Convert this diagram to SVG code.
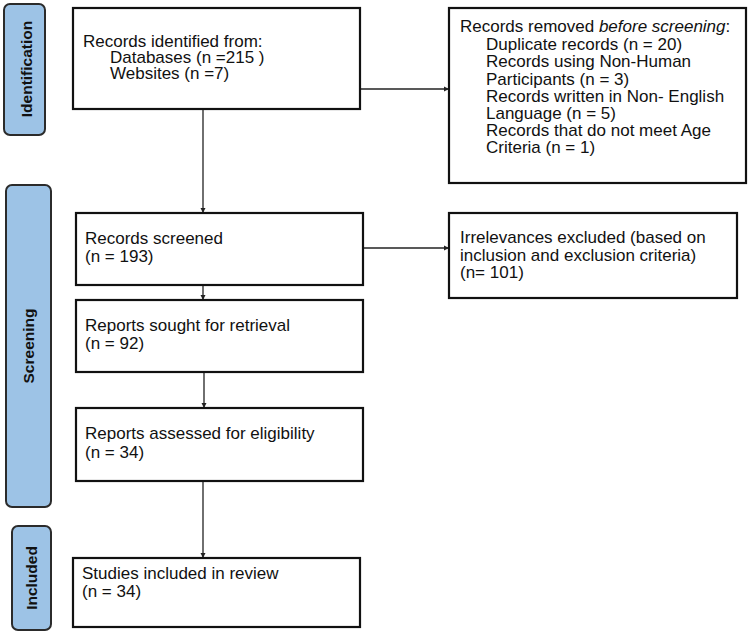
<svg xmlns="http://www.w3.org/2000/svg" width="750" height="635" viewBox="0 0 750 635">
<style>
.lbl{fill:#9DC3E6;stroke:#2b2b2b;stroke-width:2}
.box{fill:#fff;stroke:#111;stroke-width:2.2}
.t{font-family:"Liberation Sans",Arial,sans-serif;font-size:17px;fill:#111}
.lt{font-family:"Liberation Sans",Arial,sans-serif;font-size:15.5px;font-weight:bold;fill:#111;text-anchor:middle}
.c{stroke:#222;stroke-width:1.3;fill:none;marker-end:url(#ah)}
</style>
<defs>
<marker id="ah" viewBox="0 0 6 6" refX="6" refY="3" markerWidth="4" markerHeight="4" markerUnits="strokeWidth" orient="auto">
<path d="M0,0 L6,3 L0,6 z" fill="#222"/>
</marker>
</defs>
<rect width="750" height="635" fill="#fff"/>
<g id="label-identification">
<rect class="lbl" x="4" y="4" width="41" height="131" rx="6"/>
<text class="lt" transform="translate(31.5,69) rotate(-90)">Identification</text>
</g>
<g id="label-screening">
<rect class="lbl" x="6" y="185" width="45" height="322" rx="6"/>
<text class="lt" transform="translate(33.5,346) rotate(-90)">Screening</text>
</g>
<g id="label-included">
<rect class="lbl" x="12" y="526" width="39" height="104" rx="6"/>
<text class="lt" transform="translate(37,578) rotate(-90)">Included</text>
</g>
<g id="connectors">
<path class="c" d="M203,109 V213"/>
<path class="c" d="M360,89 H449"/>
<path class="c" d="M203,285 V300"/>
<path class="c" d="M363,248 H449"/>
<path class="c" d="M204,372 V408"/>
<path class="c" d="M203,455 V558"/>
</g>
<g id="identified">
<rect class="box" x="73" y="8" width="287" height="101"/>
<text class="t" x="83" y="47">Records identified from:</text>
<text class="t" x="110" y="63">Databases (n =215 )</text>
<text class="t" x="110" y="79">Websites (n =7)</text>
</g>
<g id="removed">
<rect class="box" x="449" y="8" width="297" height="175"/>
<text class="t" x="460" y="32">Records removed <tspan font-style="italic">before screening</tspan>:</text>
<text class="t" x="486" y="50">Duplicate records (n = 20)</text>
<text class="t" x="486" y="67">Records using Non-Human</text>
<text class="t" x="486" y="85">Participants (n = 3)</text>
<text class="t" x="486" y="102">Records written in Non- English</text>
<text class="t" x="486" y="119">Language (n = 5)</text>
<text class="t" x="486" y="136">Records that do not meet Age</text>
<text class="t" x="486" y="153">Criteria (n = 1)</text>
</g>
<g id="screened">
<rect class="box" x="76" y="213" width="287" height="72"/>
<text class="t" x="85" y="244">Records screened</text>
<text class="t" x="85" y="262">(n = 193)</text>
</g>
<g id="excluded">
<rect class="box" x="449" y="213" width="288" height="85"/>
<text class="t" x="460" y="243">Irrelevances excluded (based on</text>
<text class="t" x="460" y="261">inclusion and exclusion criteria)</text>
<text class="t" x="460" y="278">(n= 101)</text>
</g>
<g id="sought">
<rect class="box" x="76" y="300" width="287" height="72"/>
<text class="t" x="85" y="331">Reports sought for retrieval</text>
<text class="t" x="85" y="349">(n = 92)</text>
</g>
<g id="assessed">
<rect class="box" x="76" y="408" width="287" height="73"/>
<text class="t" x="85" y="439">Reports assessed for eligibility</text>
<text class="t" x="85" y="458">(n = 34)</text>
</g>
<g id="included">
<rect class="box" x="73" y="558" width="287" height="69"/>
<text class="t" x="82" y="579">Studies included in review</text>
<text class="t" x="82" y="597">(n = 34)</text>
</g>
</svg>
